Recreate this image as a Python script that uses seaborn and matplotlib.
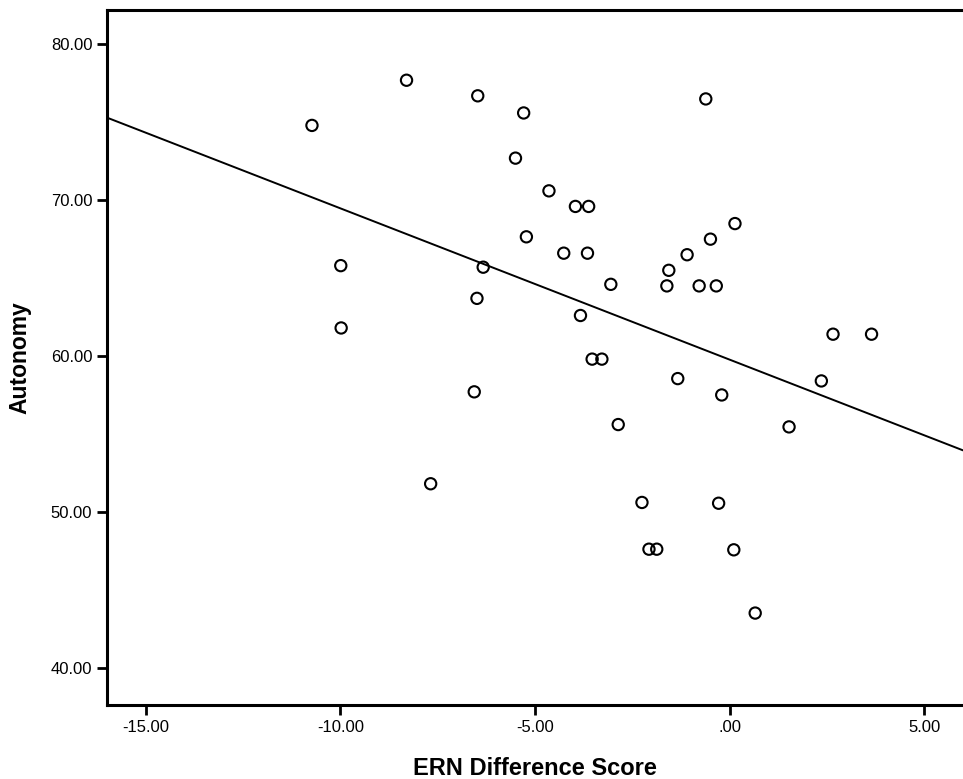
import matplotlib
matplotlib.use("Agg")
from matplotlib import pyplot as plt
from matplotlib.ticker import FuncFormatter
import numpy as np
import pandas as pd
import seaborn as sns

# values
ern_diff = [-10.73, -8.30, -6.47, -5.29, -5.50, -4.64, -3.96, -3.62, -5.22, -4.26,
            -3.65, -3.05, -9.99, -6.33, -6.49, -9.98, -3.83, -3.53, -3.28, -0.61,
            0.14, -0.49, -1.09, -1.56, -1.61, -0.78, -0.34, 2.66, 3.65, -1.33,
            -0.20, -2.86, 1.53, 2.36, -2.25, -0.28, -2.07, -1.87, 0.11, 0.66,
            -6.56, -7.68]
autonomy = [74.8, 77.7, 76.7, 75.6, 72.7, 70.6, 69.6, 69.6, 67.65, 66.6,
            66.6, 64.6, 65.8, 65.7, 63.7, 61.8, 62.6, 59.8, 59.8, 76.5,
            68.5, 67.5, 66.5, 65.5, 64.5, 64.5, 64.5, 61.4, 61.4, 58.55,
            57.5, 55.6, 55.45, 58.4, 50.6, 50.55, 47.6, 47.6, 47.56, 43.5,
            57.7, 51.8]
x_ticks = [-15, -10, -5, 0, 5]
y_ticks = [40, 50, 60, 70, 80]

df = pd.DataFrame({"ERN Difference Score": ern_diff, "Autonomy": autonomy})

sns.set_style("ticks")
plt.rcParams["font.family"] = ["Liberation Sans", "DejaVu Sans"]
plt.rcParams["text.color"] = "black"
plt.rcParams["axes.labelcolor"] = "black"

fig = plt.figure(figsize=(9.63, 7.79), dpi=100)
ax = fig.add_axes([0.111, 0.095, 0.889, 0.892])
ax.set_xlim(-16, 6)
ax.set_ylim(37.6, 82.2)

sns.regplot(data=df, x="ERN Difference Score", y="Autonomy", ax=ax, ci=None,
            truncate=False,
            scatter_kws=dict(s=66, facecolors="none", edgecolors="black",
                             linewidths=1.5, alpha=1),
            line_kws=dict(color="black", lw=1.4))

ax.set_xlim(-16, 6)
ax.set_ylim(37.6, 82.2)
ax.set_xticks(x_ticks)
ax.set_yticks(y_ticks)


def fmt(v, pos):
    s = f"{v:.2f}"
    if s.startswith("0"):
        s = s[1:]
    return s


ax.xaxis.set_major_formatter(FuncFormatter(fmt))
ax.yaxis.set_major_formatter(FuncFormatter(fmt))
ax.tick_params(labelsize=12, width=2, length=7, color="black", labelcolor="black")
ax.set_xlabel("ERN Difference Score", fontsize=17, fontweight="bold", labelpad=16,
              color="black")
ax.set_ylabel("Autonomy", fontsize=16.5, fontweight="bold", labelpad=14,
              color="black")

for side in ["left", "bottom", "top"]:
    ax.spines[side].set_linewidth(2.2)
    ax.spines[side].set_color("black")
ax.spines["right"].set_visible(False)

fig.savefig("out.png", dpi=100)
